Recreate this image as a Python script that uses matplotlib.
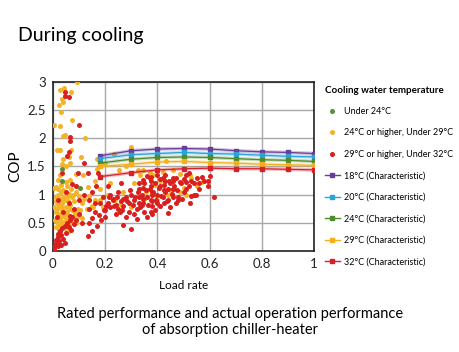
import matplotlib
matplotlib.use("Agg")
import matplotlib.pyplot as plt
from matplotlib.lines import Line2D

plt.rcParams["font.family"] = ["Lato", "DejaVu Sans"]

# 実測データ（冷却水温度別）
green_x = [0.036, 0.034, 0.103]
green_y = [1.45, 1.24, 1.11]

yellow_x = [0.092, 0.029, 0.042, 0.036, 0.038, 0.023, 0.032, 0.068, 0.006, 0.027,
            0.075, 0.046, 0.038, 0.124, 0.017, 0.027, 0.069, 0.038, 0.06, 0.109,
            0.064, 0.05, 0.036, 0.02, 0.029, 0.005, 0.013, 0.051, 0.064, 0.089,
            0.115, 0.135,
            0.01, 0.02, 0.03, 0.045, 0.06, 0.075, 0.09, 0.1, 0.015, 0.025,
            0.035, 0.05, 0.065, 0.08, 0.11, 0.012, 0.022, 0.033, 0.044, 0.055,
            0.068, 0.085, 0.1, 0.008, 0.018, 0.028, 0.04, 0.052, 0.062, 0.075,
            0.09, 0.012, 0.025, 0.035, 0.048, 0.06, 0.02, 0.038, 0.045, 0.07,
            0.055, 0.04, 0.03, 0.12, 0.13, 0.14, 0.15, 0.11,
            0.005, 0.015, 0.025, 0.035, 0.045, 0.058, 0.072, 0.082, 0.095, 0.03,
            0.042, 0.053, 0.018, 0.028, 0.066, 0.078, 0.105, 0.01, 0.048, 0.058,
            0.169, 0.2, 0.234, 0.298, 0.281, 0.253, 0.326, 0.345, 0.332, 0.383,
            0.434, 0.46, 0.485, 0.524, 0.396, 0.39, 0.447, 0.485, 0.508, 0.358,
            0.3, 0.255, 0.236, 0.179, 0.162, 0.153, 0.19, 0.21, 0.22, 0.18,
            0.27, 0.41, 0.55, 0.57, 0.42, 0.37, 0.16, 0.17, 0.31, 0.35,
            0.4, 0.44, 0.5, 0.53]
yellow_y = [3.0, 2.86, 2.89, 2.70, 2.65, 2.60, 2.47, 2.82, 2.23, 2.22,
            2.32, 2.06, 2.05, 2.0, 1.79, 1.79, 1.79, 1.63, 1.66, 1.66,
            1.57, 1.50, 1.55, 1.26, 1.35, 1.12, 1.14, 1.22, 1.26, 1.36,
            1.35, 1.13,
            0.95, 1.0, 0.92, 0.98, 1.02, 0.95, 1.05, 0.98, 0.85, 0.8,
            0.86, 0.78, 0.82, 0.88, 0.85, 0.7, 0.66, 0.72, 0.64, 0.7,
            0.6, 0.68, 0.62, 0.55, 0.5, 0.56, 0.52, 0.58, 0.48, 0.54,
            0.5, 0.42, 0.38, 0.45, 0.4, 0.35, 0.3, 0.62, 0.9, 1.1,
            1.15, 1.08, 1.18, 0.92, 0.75, 0.98, 0.8, 0.58,
            0.78, 0.74, 0.6, 0.78, 0.68, 0.88, 0.72, 0.62, 0.74, 1.05,
            0.95, 0.62, 1.1, 0.46, 0.75, 1.0, 0.72, 0.88, 0.5, 0.98,
            1.63, 1.56, 1.73, 1.84, 1.51, 1.44, 1.44, 1.44, 1.35, 1.35,
            1.59, 1.44, 1.37, 1.35, 0.99, 1.17, 1.08, 1.05, 0.99, 1.05,
            0.78, 0.84, 0.9, 0.9, 0.9, 0.78, 0.78, 1.0, 1.2, 1.1,
            1.05, 1.25, 1.15, 1.22, 1.4, 1.41, 1.25, 1.45, 1.2, 0.92,
            0.9, 1.0, 1.12, 1.3]

red_x = [0.046, 0.047, 0.06, 0.101, 0.066, 0.066, 0.061, 0.055, 0.12, 0.097,
         0.133, 0.174, 0.033, 0.073,
         0.003, 0.006, 0.008, 0.01, 0.012, 0.015, 0.018, 0.02, 0.025, 0.028,
         0.03, 0.035, 0.04, 0.045, 0.05, 0.055, 0.06, 0.065, 0.07, 0.075,
         0.08, 0.09, 0.1, 0.11, 0.02, 0.015, 0.03, 0.045, 0.04, 0.06,
         0.08, 0.1, 0.12, 0.09, 0.05, 0.02, 0.065,
         0.134, 0.175, 0.14, 0.15, 0.16, 0.17, 0.18, 0.19, 0.2, 0.15,
         0.165, 0.14,
         0.21, 0.22, 0.23, 0.24, 0.25, 0.26, 0.27, 0.28, 0.29, 0.22,
         0.25, 0.27, 0.268, 0.3, 0.24, 0.29, 0.21, 0.26, 0.3,
         0.31, 0.32, 0.322, 0.33, 0.34, 0.35, 0.36, 0.37, 0.38, 0.39,
         0.4, 0.41, 0.42, 0.43, 0.44, 0.45, 0.35, 0.36, 0.38, 0.4,
         0.41, 0.43, 0.44, 0.37, 0.33, 0.39, 0.42, 0.45, 0.34, 0.36,
         0.38, 0.4, 0.41,
         0.46, 0.47, 0.48, 0.49, 0.5, 0.51, 0.52, 0.53, 0.54, 0.55,
         0.56, 0.549, 0.524, 0.6, 0.594, 0.594, 0.616, 0.47, 0.5, 0.46,
         0.52, 0.57, 0.53,
         0.305, 0.315, 0.325, 0.335, 0.345, 0.355, 0.365, 0.375, 0.385, 0.395,
         0.405, 0.415, 0.425, 0.435, 0.445, 0.455, 0.465, 0.475, 0.485, 0.495,
         0.375, 0.375, 0.375, 0.375, 0.38, 0.38, 0.345, 0.345, 0.345, 0.33,
         0.33, 0.425, 0.425, 0.43, 0.46, 0.46, 0.51, 0.51, 0.54, 0.58,
         0.23, 0.235, 0.245, 0.255, 0.215, 0.205, 0.195, 0.285, 0.295, 0.265,
         0.2, 0.185, 0.16, 0.28, 0.31, 0.44, 0.48, 0.56, 0.14, 0.15]
red_y = [2.83, 2.76, 2.74, 2.23, 2.02, 1.95, 1.76, 1.68, 1.57, 1.38,
         1.38, 1.38, 1.38, 1.19,
         0.02, 0.05, 0.1, 0.15, 0.2, 0.12, 0.25, 0.3, 0.18, 0.35,
         0.28, 0.4, 0.22, 0.45, 0.32, 0.5, 0.42, 0.55, 0.38, 0.6,
         0.48, 0.55, 0.65, 0.5, 0.08, 0.6, 0.1, 0.15, 0.7, 0.85,
         0.75, 0.9, 1.0, 1.15, 1.05, 0.9, 0.62,
         0.27, 0.64, 0.5, 0.58, 0.7, 0.45, 0.85, 0.95, 0.72, 1.05,
         1.15, 0.9,
         0.85, 0.78, 0.9, 0.82, 0.75, 0.88, 0.8, 0.95, 0.7, 1.0,
         1.05, 0.92, 0.47, 0.39, 0.65, 0.85, 1.15, 1.2, 1.0,
         0.9, 0.75, 0.56, 0.85, 1.0, 0.7, 0.95, 1.1, 0.88, 1.2,
         1.0, 0.8, 1.3, 1.05, 0.9, 0.78, 1.2, 0.6, 0.65, 1.35,
         1.15, 1.25, 1.1, 1.3, 1.1, 0.72, 0.95, 1.2, 0.82, 1.33,
         1.0, 0.85, 1.28,
         1.1, 1.3, 0.95, 1.2, 1.05, 1.35, 1.15, 1.25, 1.0, 1.3,
         1.2, 0.99, 0.86, 1.33, 1.25, 1.15, 0.96, 0.85, 1.28, 1.25,
         1.38, 1.32, 0.98,
         0.82, 0.95, 1.05, 0.78, 0.92, 1.08, 0.82, 1.25, 1.05, 0.9,
         1.12, 0.98, 1.18, 0.88, 1.25, 1.02, 1.15, 1.08, 1.22, 0.92,
         0.7, 0.9, 1.15, 1.32, 0.8, 1.05, 0.86, 1.12, 1.26, 0.95,
         1.2, 1.08, 0.85, 1.35, 0.95, 1.3, 1.22, 1.1, 1.2, 1.25,
         0.92, 0.8, 0.96, 0.7, 0.95, 0.8, 0.72, 0.88, 1.08, 0.72,
         0.6, 0.55, 0.85, 0.6, 0.65, 0.68, 0.9, 1.1, 0.75, 0.35]

# 特性カーブ
char_x = [0.18, 0.3, 0.4, 0.5, 0.6, 0.7, 0.8, 0.9, 1.0]
char_18 = [1.69, 1.78, 1.81, 1.82, 1.81, 1.78, 1.76, 1.75, 1.73]
char_20 = [1.64, 1.71, 1.73, 1.75, 1.73, 1.72, 1.70, 1.68, 1.67]
char_24 = [1.56, 1.63, 1.66, 1.67, 1.66, 1.64, 1.62, 1.61, 1.59]
char_29 = [1.50, 1.54, 1.58, 1.59, 1.57, 1.56, 1.54, 1.53, 1.52]
char_32 = [1.32, 1.39, 1.44, 1.46, 1.47, 1.46, 1.46, 1.45, 1.44]

scatter_labels = ["Under 24°C", "24°C or higher, Under 29°C", "29°C or higher, Under 32°C"]
char_labels = ["18°C (Characteristic)", "20°C (Characteristic)", "24°C (Characteristic)",
               "29°C (Characteristic)", "32°C (Characteristic)"]

c_green = "#5b8c3a"
c_yellow = "#f3b325"
c_red = "#d9201f"
line_colors = ["#6a3d9a", "#2aa3d8", "#4f8a2b", "#f2b01e", "#d8202a"]

fig = plt.figure(figsize=(4.6, 3.52), dpi=100)
ax = fig.add_axes([0.115, 0.287, 0.568, 0.48])

ax.scatter(yellow_x, yellow_y, s=13, color=c_yellow, linewidths=0, zorder=3)
ax.scatter(red_x, red_y, s=13, color=c_red, linewidths=0, zorder=4)
ax.scatter(green_x, green_y, s=13, color=c_green, linewidths=0, zorder=5)

for ys, col in zip([char_18, char_20, char_24, char_29, char_32], line_colors):
    # うっすら太い線 + 細い線
    ax.plot(char_x, ys, color=col, lw=2.6, alpha=0.3, zorder=5, solid_capstyle="butt")
    ax.plot(char_x, ys, color=col, lw=0.9, marker="s", ms=2.4, zorder=6)

ax.set_xlim(0, 1)
ax.set_ylim(0, 3)
ax.set_xticks([0, 0.2, 0.4, 0.6, 0.8, 1])
ax.set_xticklabels(["0", "0.2", "0.4", "0.6", "0.8", "1"])
ax.set_yticks([0, 0.5, 1, 1.5, 2, 2.5, 3])
ax.set_yticklabels(["0", "0.5", "1", "1.5", "2", "2.5", "3"])
ax.grid(True, color="#a8a8a8", lw=1)
ax.set_axisbelow(True)
for sp in ax.spines.values():
    sp.set_color("#222222")
    sp.set_linewidth(1.2)
ax.tick_params(length=0, labelsize=9.5, pad=5, colors="#222222")
ax.set_xlabel("Load rate", fontsize=8.5, labelpad=7)
ax.set_ylabel("COP", fontsize=11, labelpad=4)

handles = []
for col, lab in zip([c_green, c_yellow, c_red], scatter_labels):
    handles.append(Line2D([], [], ls="none", marker="o", ms=2.6, color=col, label=lab))
for col, lab in zip(line_colors, char_labels):
    handles.append(Line2D([], [], color=col, lw=1, marker="s", ms=2.2, label=lab))

leg = fig.legend(handles=handles, loc="upper left", bbox_to_anchor=(0.693, 0.775),
                 frameon=False, fontsize=6.5, title="Cooling water temperature",
                 title_fontproperties={"weight": "bold", "size": 7},
                 handlelength=1.6, handletextpad=0.5, labelspacing=1.38,
                 alignment="left", borderpad=0.2)

fig.text(0.04, 0.9, "During cooling", fontsize=14, ha="left", va="center")
fig.text(0.5, 0.085, "Rated performance and actual operation performance\nof absorption chiller-heater",
         fontsize=10.5, ha="center", va="center", linespacing=1.15)

fig.savefig("out.png", dpi=100)
